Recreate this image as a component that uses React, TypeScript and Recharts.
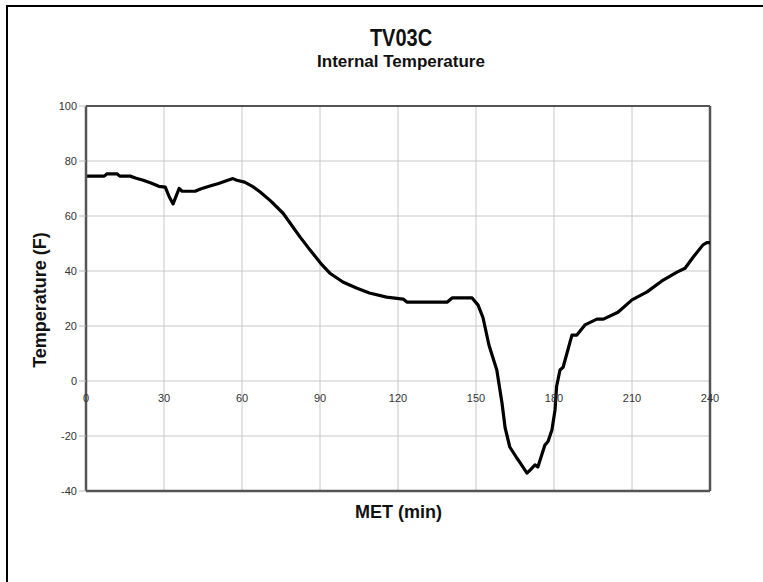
import React from 'react';
import { LineChart, Line, XAxis, YAxis, CartesianGrid, ReferenceLine } from 'recharts';

const metMin = [0, 7, 8, 12, 13, 17, 19, 22, 25, 28, 30.5, 32, 33.5, 35.8, 37, 42, 44, 48, 51, 54, 56.5, 58, 61, 64, 67, 71, 75.8, 82.3, 86.2, 90.8, 93.8, 98.8, 104, 109, 115.6, 122, 123.4, 139, 140.8, 148.5, 150.8, 152.7, 155, 158, 160, 161.2, 163, 165.7, 167, 169.6, 170.8, 172.7, 173.8, 176.5, 177.7, 179.2, 180.4, 181, 182.3, 183.5, 186.9, 188.8, 191.9, 196.5, 199, 204.6, 210, 215.8, 222, 227.3, 230.4, 233.5, 237.3, 238.8, 240];
const tempF = [74.5, 74.5, 75.3, 75.3, 74.5, 74.5, 73.8, 73, 72, 70.8, 70.5, 67, 64.4, 70, 69, 69, 69.8, 71, 71.8, 72.8, 73.6, 73, 72.3, 70.8, 68.7, 65.5, 61, 52.4, 47.6, 42.2, 39.2, 36, 33.8, 32, 30.5, 29.8, 28.7, 28.7, 30.2, 30.2, 27.6, 23, 13, 4, -8, -17, -24, -28, -29.8, -33.5, -32.4, -30.5, -31.3, -23.3, -22, -17.8, -10.5, -2, 4, 5, 16.7, 16.7, 20.4, 22.5, 22.5, 25, 29.5, 32.4, 36.7, 39.6, 41, 45, 49.5, 50.3, 50.3];
const xTicks = [0, 30, 60, 90, 120, 150, 180, 210, 240];
const yTicks = [-40, -20, 0, 20, 40, 60, 80, 100];

const data = metMin.map((t, i) => ({ t, v: tempF[i] }));

const FONT = '"Liberation Sans", Arial, Helvetica, sans-serif';

const XTick = (props: any) => {
  const { x, y, payload } = props;
  return (
    <text x={x} y={y - 89} textAnchor="middle" fontSize={11} fill="#333" fontFamily={FONT}>
      {payload.value}
    </text>
  );
};

export default function App() {
  return (
    <div style={{ position: 'absolute', left: 0, top: 0, width: 763, height: 582, background: '#fff', overflow: 'hidden' }}>
      <div style={{ position: 'absolute', left: 6, top: 5, width: 800, height: 700, borderLeft: '2.5px solid #000', borderTop: '2.5px solid #000' }} />
      <div style={{ position: 'absolute', left: 0, width: 802, top: 26, textAlign: 'center', fontFamily: FONT, fontWeight: 'bold', fontSize: 20, lineHeight: '24px', color: '#111', transform: 'scaleY(1.2)' }}>TV03C</div>
      <div style={{ position: 'absolute', left: 0, width: 802, top: 52, textAlign: 'center', fontFamily: FONT, fontWeight: 'bold', fontSize: 17, lineHeight: '20px', color: '#111' }}>Internal Temperature</div>
      <div style={{ position: 'absolute', left: 0, width: 797, top: 502, textAlign: 'center', fontFamily: FONT, fontWeight: 'bold', fontSize: 18, lineHeight: '20px', color: '#111' }}>MET (min)</div>
      <div style={{ position: 'absolute', left: 40 - 100, top: 300 - 10, width: 200, height: 20, textAlign: 'center', fontFamily: FONT, fontWeight: 'bold', fontSize: 18, lineHeight: '20px', color: '#111', transform: 'rotate(-90deg)' }}>Temperature (F)</div>
      <div style={{ position: 'absolute', left: 0, top: 0 }}>
        <LineChart width={763} height={582} data={data} margin={{ top: 106, right: 53, left: 36, bottom: 61 }}>
          <CartesianGrid stroke="#c8c8c8" strokeWidth={1} />
          <XAxis
            dataKey="t"
            type="number"
            domain={[0, 240]}
            ticks={xTicks}
            interval={0}
            height={30}
            tickLine={false}
            tickSize={0}
            tickMargin={0}
            axisLine={{ stroke: '#555', strokeWidth: 2.5 }}
            tick={<XTick />}
            allowDataOverflow
          />
          <YAxis
            type="number"
            domain={[-40, 100]}
            ticks={yTicks}
            interval={0}
            width={50}
            tickSize={7}
            tickMargin={2}
            tickLine={{ stroke: '#bbb' }}
            axisLine={{ stroke: '#555', strokeWidth: 2.5 }}
            tick={{ fontSize: 11, fill: '#333', fontFamily: FONT }}
            allowDataOverflow
          />
          <ReferenceLine y={100} stroke="#555" strokeWidth={2} />
          <ReferenceLine x={240} stroke="#555" strokeWidth={2.5} />
          <Line type="linear" dataKey="v" stroke="#000" strokeWidth={3.2} dot={false} isAnimationActive={false} strokeLinejoin="round" />
        </LineChart>
      </div>
    </div>
  );
}
